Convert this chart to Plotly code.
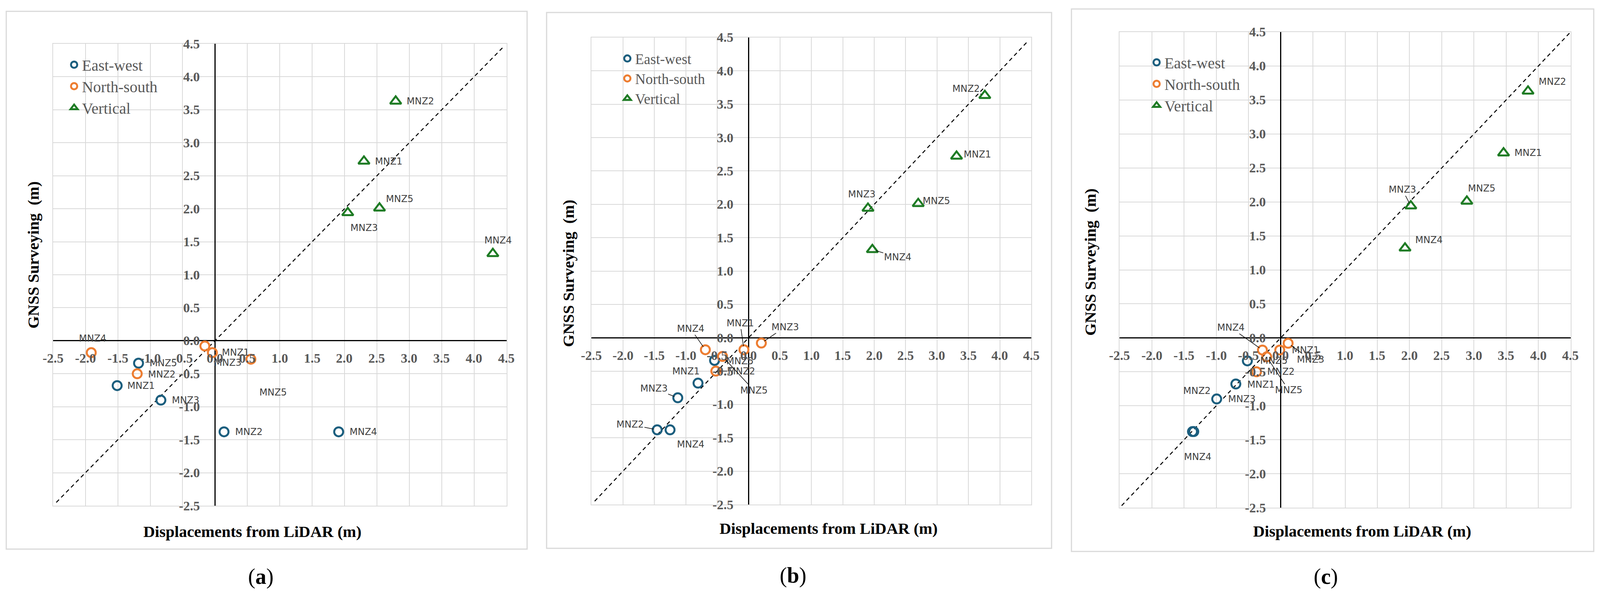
import plotly.graph_objects as go

# reference canvas used to lay out everything as fractions of the page
W, H = 4344, 1525

# ---------------- data ----------------
stations = ["MNZ1", "MNZ2", "MNZ3", "MNZ4", "MNZ5"]
series_names = ["East-west", "North-south", "Vertical"]

# GNSS surveying displacements (m)
gnss_ew = [-0.68, -1.38, -0.90, -1.38, -0.34]
gnss_ns = [-0.18, -0.50, -0.08, -0.18, -0.28]
gnss_v = [2.72, 3.63, 1.94, 1.32, 2.01]

# LiDAR displacements (m), panels a, b, c
lidar_a_ew = [-1.51, 0.14, -0.835, 1.91, -1.18]
lidar_a_ns = [-0.04, -1.20, -0.156, -1.91, 0.554]
lidar_a_v = [2.30, 2.79, 2.05, 4.29, 2.54]

lidar_b_ew = [-0.805, -1.455, -1.127, -1.25, -0.542]
lidar_b_ns = [-0.074, -0.522, 0.203, -0.688, -0.415]
lidar_b_v = [3.31, 3.76, 1.90, 1.97, 2.70]

lidar_c_ew = [-0.697, -1.37, -0.994, -1.35, -0.518]
lidar_c_ns = [-0.015, -0.376, 0.115, -0.284, -0.217]
lidar_c_v = [3.46, 3.84, 2.02, 1.93, 2.89]

# 1:1 reference line extents
diag_a = [-2.45, 4.45]
diag_b = [-2.45, 4.45]
diag_c = [-2.47, 4.49]

tick_vals = [-2.5, -2.0, -1.5, -1.0, -0.5, 0.0, 0.5, 1.0, 1.5, 2.0, 2.5, 3.0, 3.5, 4.0, 4.5]
tick_text = ["-2.5", "-2.0", "-1.5", "-1.0", "-0.5", "0.0", "0.5", "1.0", "1.5", "2.0",
             "2.5", "3.0", "3.5", "4.0", "4.5"]
panel_letters = ["a", "b", "c"]
x_title = "Displacements from LiDAR (m)"
y_title = "GNSS Surveying\u00a0 (m)"

# ---------------- label placement (offsets in data units, leader flag) ----------------
lab_a = {
    "ew": [(0.37, 0, 0), (0.38, 0, 0), (0.38, 0, 0), (0.38, 0, 0), (0.38, 0, 0)],
    "ns": [(0.36, 0, 0), (0.38, -0.01, 0), (0.355, -0.255, 0), (0.02, 0.215, 0), (0.34, -0.5, 0)],
    "v": [(0.38, 0, 0), (0.38, 0, 0), (0.25, -0.23, 0), (0.08, 0.20, 0), (0.31, 0.14, 0)],
}
lab_b = {
    "ew": [(-0.19, 0.175, 0), (-0.43, 0.08, 1), (-0.38, 0.14, 1), (0.33, -0.22, 0), (0.40, -0.01, 0)],
    "ns": [(-0.06, 0.40, 1), (0.41, 0.0, 1), (0.376, 0.24, 1), (-0.234, 0.315, 1), (0.50, -0.51, 1)],
    "v": [(0.33, 0.03, 0), (-0.30, 0.10, 1), (-0.10, 0.21, 0), (0.40, -0.11, 1), (0.29, 0.04, 0)],
}
lab_c = {
    "ew": [(0.39, -0.01, 0), (0.07, 0.60, 0), (0.39, 0, 0), (0.06, -0.37, 0), (0.41, 0, 0)],
    "ns": [(0.40, 0.0, 0), (0.38, 0.0, 0), (0.35, -0.24, 1), (-0.49, 0.33, 1), (0.34, -0.49, 1)],
    "v": [(0.38, 0, 0), (0.38, 0.14, 0), (-0.13, 0.24, 1), (0.37, 0.12, 0), (0.23, 0.19, 0)],
}

# ---------------- layout geometry (reference pixels) ----------------
plot_px = [  # left, right, top, bottom
    (144, 1375, 112, 1294),
    (1606, 2800, 96, 1291),
    (3040, 4264, 82, 1299),
]
frame_px = [(17, 1431, 29, 1405), (1484, 2855, 32, 1403), (2909, 4327, 23, 1411)]
xtitle_px = [(685, 1360), (2249, 1352), (3698, 1359)]
ytitle_px = [(90, 652), (1543, 699), (2960, 671)]
letter_px = [(708, 1475), (2153, 1472), (3600, 1475)]
legend_px = [(180, 133), (1682, 119), (3119, 127)]
legend_font_size = [40, 37, 40]

C_EW = "#1B5E7E"
C_NS = "#ED7D31"
C_V = "#1E7B24"
GRID = "#D9D9D9"
TICK_FONT = dict(family="Liberation Serif", size=34, color="#595959")
LAB_FONT = dict(family="DejaVu Sans", size=24, color="#404040")
TITLE_FONT = dict(family="Liberation Serif", size=41, color="#000000")

panels = [
    (lidar_a_ew, lidar_a_ns, lidar_a_v, diag_a, lab_a),
    (lidar_b_ew, lidar_b_ns, lidar_b_v, diag_b, lab_b),
    (lidar_c_ew, lidar_c_ns, lidar_c_v, diag_c, lab_c),
]

fig = go.Figure()
annotations = []
shapes = []
layout_axes = {}

for i, (lx_ew, lx_ns, lx_v, diag, labs) in enumerate(panels):
    k = "" if i == 0 else str(i + 1)
    xa, ya = "x" + k, "y" + k
    leg = "legend" + k
    L, R, T, B = plot_px[i]
    layout_axes["xaxis" + k] = dict(
        domain=[L / W, R / W], anchor=ya, range=[-2.5, 4.5], tick0=-2.5, dtick=0.5,
        showticklabels=False, ticks="", showgrid=True, gridcolor=GRID, gridwidth=2,
        zeroline=True, zerolinecolor="#000000", zerolinewidth=2.5,
        showline=True, linecolor=GRID, linewidth=2, mirror=True, fixedrange=True)
    layout_axes["yaxis" + k] = dict(
        domain=[1 - B / H, 1 - T / H], anchor=xa, range=[-2.5, 4.5], tick0=-2.5, dtick=0.5,
        showticklabels=False, ticks="", showgrid=True, gridcolor=GRID, gridwidth=2,
        zeroline=True, zerolinecolor="#000000", zerolinewidth=3,
        showline=True, linecolor=GRID, linewidth=2, mirror=True, fixedrange=True)

    # 1:1 line
    fig.add_trace(go.Scatter(x=diag, y=diag, mode="lines", xaxis=xa, yaxis=ya,
                             line=dict(color="#000000", width=2.5, dash="10px,8px"),
                             showlegend=False, hoverinfo="skip"))

    groups = [
        ("ew", series_names[0], lx_ew, gnss_ew, C_EW, "circle-open", 23),
        ("ns", series_names[1], lx_ns, gnss_ns, C_NS, "circle-open", 23),
        ("v", series_names[2], lx_v, gnss_v, C_V, "triangle-up-open", 25),
    ]
    for key, name, xs, ys, col, sym, sz in groups:
        fig.add_trace(go.Scatter(
            x=xs, y=ys, mode="markers", name=name, xaxis=xa, yaxis=ya, legend=leg,
            marker=dict(symbol=sym, size=sz, color=col, line=dict(width=5, color=col)),
            text=stations, hovertemplate="%{text}: (%{x}, %{y})<extra></extra>"))
        for j, st in enumerate(stations):
            dx, dy, lead = labs[key][j]
            if lead:
                annotations.append(dict(
                    x=xs[j], y=ys[j], ax=xs[j] + dx, ay=ys[j] + dy, xref=xa, yref=ya,
                    axref=xa, ayref=ya, text=st, showarrow=True, arrowhead=0,
                    arrowwidth=1.5, arrowcolor="#000000", standoff=9, font=LAB_FONT))
            else:
                annotations.append(dict(
                    x=xs[j] + dx, y=ys[j] + dy, xref=xa, yref=ya, text=st,
                    showarrow=False, font=LAB_FONT))

    # Excel-style tick labels sitting on the zero axes
    for tv, tt in zip(tick_vals, tick_text):
        annotations.append(dict(x=tv, y=0, xref=xa, yref=ya, text="<b>%s</b>" % tt,
                                showarrow=False, yshift=-45, xanchor="center",
                                yanchor="middle", font=TICK_FONT))
        annotations.append(dict(x=0, y=tv, xref=xa, yref=ya, text="<b>%s</b>" % tt,
                                showarrow=False, xshift=-36, xanchor="right",
                                yanchor="middle", font=TICK_FONT))

    # axis titles
    tx, ty = xtitle_px[i]
    annotations.append(dict(x=tx / W, y=1 - ty / H, xref="paper", yref="paper",
                            text="<b>%s</b>" % x_title, showarrow=False,
                            xanchor="center", yanchor="middle", font=TITLE_FONT))
    tx, ty = ytitle_px[i]
    annotations.append(dict(x=tx / W, y=1 - ty / H, xref="paper", yref="paper",
                            text="<b>%s</b>" % y_title, showarrow=False, textangle=-90,
                            xanchor="center", yanchor="middle", font=TITLE_FONT))
    # panel letter
    tx, ty = letter_px[i]
    annotations.append(dict(x=tx / W, y=1 - ty / H, xref="paper", yref="paper",
                            text="(<b>%s</b>)" % panel_letters[i], showarrow=False,
                            xanchor="center", yanchor="middle",
                            font=dict(family="Liberation Serif", size=56, color="#000000")))
    # frame
    fl, fr, ft, fb = frame_px[i]
    shapes.append(dict(type="rect", xref="paper", yref="paper", x0=fl / W, x1=fr / W,
                       y0=1 - fb / H, y1=1 - ft / H, line=dict(color=GRID, width=3),
                       fillcolor="rgba(0,0,0,0)", layer="below"))
    gx, gy = legend_px[i]
    layout_axes[leg] = dict(x=gx / W, y=1 - gy / H, xanchor="left", yanchor="top",
                            bgcolor="rgba(0,0,0,0)", borderwidth=0, itemwidth=30,
                            font=dict(family="Liberation Serif", size=legend_font_size[i],
                                      color="#595959"))

fig.update_layout(
    autosize=True, margin=dict(l=0, r=0, t=0, b=0),
    paper_bgcolor="#FFFFFF", plot_bgcolor="#FFFFFF",
    annotations=annotations, shapes=shapes, showlegend=True,
    **layout_axes)

# fill the browser window exactly (no page margin, no scrollbars)
post = ("document.documentElement.style.margin='0';document.body.style.margin='0';"
        "document.body.style.padding='0';"
        "document.documentElement.style.overflow='hidden';document.body.style.overflow='hidden';"
        "var gd=document.getElementById('{plot_id}');"
        "Plotly.Plots.resize(gd);")

fig.write_html("out.html", default_width="100vw", default_height="100vh",
               config={"responsive": True, "displayModeBar": False}, post_script=post)
